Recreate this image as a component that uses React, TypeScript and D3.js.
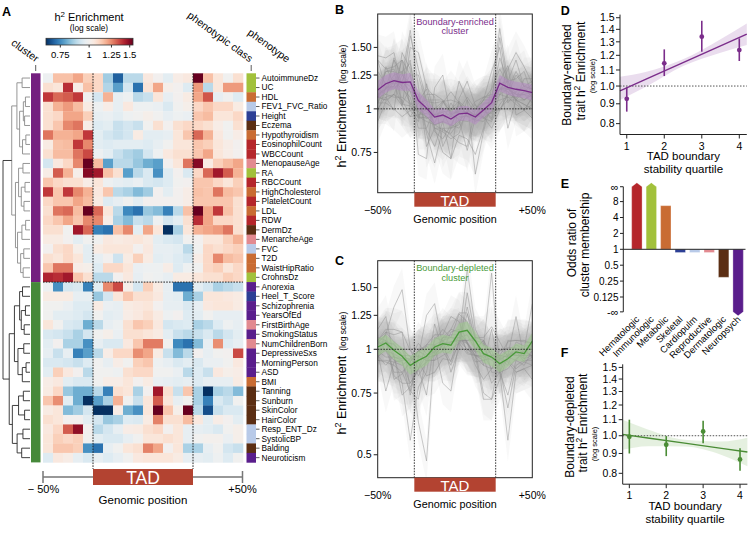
import React, { useEffect, useRef } from "react";
import * as d3 from "d3";

const FONT = "'Liberation Sans', Arial, Helvetica, sans-serif";

// ---- panel A data ----
const phenotypes = [
  "AutoimmuneDz", "UC", "HDL", "FEV1_FVC_Ratio", "Height", "Eczema", "Hypothyroidism",
  "EosinophilCount", "WBCCount", "MenopauseAge", "RA", "RBCCount", "HighCholesterol",
  "PlateletCount", "LDL", "RDW", "DermDz", "MenarcheAge", "FVC", "T2D", "WaistHipRatio",
  "CrohnsDz", "Anorexia", "Heel_T_Score", "Schizophrenia", "YearsOfEd", "FirstBirthAge",
  "SmokingStatus", "NumChildrenBorn", "DepressiveSxs", "MorningPerson", "ASD", "BMI",
  "Tanning", "Sunburn", "SkinColor", "HairColor", "Resp_ENT_Dz", "SystolicBP", "Balding",
  "Neuroticism",
];

const phenotypeClass = [
  "Immunologic", "Immunologic", "Metabolic", "Cardiopulm", "Skeletal", "Dermatologic", "Metabolic",
  "Hematologic", "Hematologic", "Reproductive", "Immunologic", "Hematologic", "Metabolic",
  "Hematologic", "Metabolic", "Hematologic", "Dermatologic", "Reproductive", "Cardiopulm", "Metabolic", "Metabolic",
  "Immunologic", "Neuropsych", "Skeletal", "Neuropsych", "Neuropsych", "Reproductive",
  "Neuropsych", "Reproductive", "Neuropsych", "Neuropsych", "Neuropsych", "Metabolic",
  "Dermatologic", "Dermatologic", "Dermatologic", "Dermatologic", "Cardiopulm", "Cardiopulm", "Dermatologic",
  "Neuropsych",
];

const classNames = ["Hematologic", "Immunologic", "Metabolic", "Skeletal", "Cardiopulm", "Reproductive", "Dermatologic", "Neuropsych"];
const classColors = ["#b5262b", "#a2c13b", "#c96c33", "#2c3f95", "#b8cae8", "#e28a90", "#5b2e13", "#5a1e8c"];

const clusterSizes = [22, 19];
const clusterColors = ["#741f7f", "#46893a"];
const clusterLabels = ["Boundary-enriched", "Boundary-depleted"];

// h2 enrichment per trait, 5 upstream bins, 10 TAD bins, 5 downstream bins
const heatValues = [
  [0.98, 1.15, 1.15, 1.2, 1.12, 1.1, 0.85, 0.7, 0.88, 0.88, 1.05, 1.0, 0.95, 1.03, 1.05, 1.6, 1.15, 1.06, 0.99, 1.08],
  [1.08, 1.06, 1.4, 1.03, 1.15, 1.1, 0.87, 0.78, 0.92, 0.72, 1.07, 1.2, 1.02, 1.0, 0.94, 1.22, 0.88, 1.06, 1.22, 1.22],
  [1.38, 1.3, 1.32, 1.38, 0.99, 0.92, 1.18, 0.96, 0.98, 0.88, 0.9, 1.06, 0.96, 1.0, 1.04, 1.2, 1.33, 0.96, 0.99, 0.94],
  [1.08, 1.18, 1.22, 1.16, 1.04, 0.98, 1.03, 0.96, 1.05, 0.98, 0.98, 0.97, 0.93, 0.99, 1.02, 1.1, 1.14, 1.1, 1.1, 1.04],
  [1.08, 1.1, 1.2, 1.2, 1.12, 0.96, 0.97, 0.95, 0.98, 0.99, 1.02, 0.99, 0.96, 0.98, 0.97, 1.14, 1.16, 1.06, 1.06, 1.1],
  [1.08, 1.14, 1.25, 1.28, 1.03, 0.94, 0.95, 0.9, 0.92, 0.9, 0.99, 1.08, 1.0, 1.08, 1.1, 1.1, 1.08, 1.03, 0.99, 1.08],
  [1.28, 1.18, 1.18, 1.2, 1.38, 0.95, 0.92, 0.9, 0.92, 1.04, 0.95, 0.95, 0.96, 1.06, 1.14, 1.3, 1.18, 1.05, 0.99, 1.03],
  [1.04, 1.15, 1.16, 1.38, 1.25, 0.95, 0.94, 0.95, 0.95, 0.95, 0.94, 0.96, 0.99, 1.06, 1.06, 1.14, 1.12, 1.06, 1.03, 1.0],
  [1.08, 1.16, 1.16, 1.28, 1.35, 0.98, 0.95, 0.9, 0.87, 0.85, 0.92, 0.98, 1.05, 1.08, 1.08, 1.14, 1.2, 1.06, 1.03, 1.0],
  [0.92, 1.05, 1.1, 1.25, 1.68, 1.16, 0.78, 0.88, 0.88, 0.84, 0.8, 0.78, 1.0, 1.06, 1.28, 1.5, 1.04, 1.12, 1.16, 1.2],
  [1.03, 1.32, 1.18, 1.02, 1.5, 1.45, 1.15, 1.08, 0.78, 0.88, 0.93, 0.76, 0.94, 1.0, 0.93, 1.1, 1.3, 1.45, 1.32, 1.18],
  [1.14, 1.1, 1.08, 1.08, 1.03, 1.06, 0.98, 0.96, 0.95, 0.97, 0.93, 0.92, 0.94, 0.99, 1.0, 1.14, 1.14, 1.1, 1.06, 1.12],
  [1.38, 1.14, 1.38, 1.25, 1.18, 1.05, 1.14, 0.88, 0.86, 0.82, 0.85, 1.0, 0.95, 1.0, 1.03, 1.15, 1.14, 1.28, 1.16, 1.14],
  [1.1, 1.14, 1.14, 1.2, 1.16, 1.04, 0.94, 0.96, 0.99, 0.95, 1.0, 1.0, 1.0, 1.0, 1.03, 1.14, 1.14, 1.14, 1.14, 1.08],
  [1.08, 1.28, 1.3, 1.16, 1.62, 1.3, 1.06, 0.88, 0.75, 0.72, 0.84, 0.82, 0.74, 0.88, 1.15, 1.7, 1.2, 1.38, 1.15, 1.08],
  [1.1, 1.14, 1.2, 1.14, 1.25, 1.25, 1.03, 0.86, 0.82, 0.9, 0.88, 0.98, 0.92, 0.95, 1.08, 1.4, 1.2, 1.1, 1.1, 1.08],
  [1.08, 1.08, 0.99, 1.45, 1.3, 0.74, 0.72, 1.15, 1.25, 0.95, 1.2, 1.06, 0.65, 0.86, 1.06, 1.18, 1.2, 1.22, 1.28, 1.08],
  [1.04, 1.04, 1.0, 0.95, 0.99, 0.99, 1.05, 1.04, 1.05, 1.06, 1.04, 0.95, 0.93, 0.92, 0.99, 1.0, 1.06, 1.06, 1.12, 1.18],
  [1.0, 1.08, 1.1, 1.02, 0.95, 1.04, 1.06, 1.06, 1.06, 1.0, 1.05, 0.96, 0.96, 0.95, 0.88, 0.99, 1.1, 1.08, 1.1, 1.12],
  [1.08, 1.06, 1.1, 1.06, 0.95, 0.96, 1.0, 0.91, 1.04, 1.12, 1.04, 0.95, 0.96, 0.94, 0.92, 1.03, 1.1, 1.25, 1.16, 1.14],
  [1.14, 1.28, 1.28, 1.03, 1.02, 0.94, 1.1, 1.1, 1.06, 0.97, 0.98, 0.98, 1.03, 0.94, 0.98, 0.99, 1.1, 1.12, 1.06, 1.1],
  [1.42, 1.4, 1.45, 1.14, 1.08, 0.88, 0.88, 1.0, 1.05, 0.96, 0.99, 0.98, 0.96, 1.04, 1.04, 1.06, 1.08, 1.08, 1.12, 1.1],
  [0.98, 0.76, 0.92, 0.93, 0.74, 0.95, 1.25, 1.35, 1.02, 0.92, 1.12, 1.04, 0.96, 0.72, 0.72, 0.95, 0.92, 0.86, 0.88, 0.9],
  [1.04, 1.04, 1.04, 0.96, 0.96, 0.84, 0.92, 1.06, 1.14, 1.08, 1.08, 1.05, 0.96, 0.95, 0.8, 0.86, 1.06, 1.06, 1.05, 1.04],
  [0.99, 0.99, 0.97, 0.94, 0.94, 1.04, 0.97, 0.96, 1.04, 1.05, 1.06, 1.0, 0.96, 0.96, 0.93, 0.96, 1.05, 1.06, 1.06, 1.04],
  [0.99, 0.95, 0.95, 0.94, 0.92, 0.99, 0.95, 0.96, 1.03, 1.05, 1.08, 1.04, 0.98, 1.0, 0.94, 0.95, 0.99, 0.96, 0.96, 0.96],
  [1.06, 0.99, 0.93, 0.92, 0.8, 0.88, 0.96, 0.98, 1.08, 1.14, 1.12, 1.05, 0.92, 0.93, 0.94, 0.86, 0.88, 0.94, 0.98, 0.96],
  [0.93, 0.92, 0.9, 0.86, 0.92, 0.99, 1.02, 0.97, 1.08, 1.08, 1.06, 1.04, 0.95, 0.9, 0.88, 0.9, 0.93, 0.88, 0.92, 0.95],
  [0.95, 1.0, 0.86, 0.86, 0.76, 0.96, 0.93, 0.93, 1.05, 1.14, 1.27, 1.27, 0.99, 0.75, 0.72, 0.82, 0.96, 1.24, 0.94, 0.96],
  [0.96, 0.9, 0.96, 0.74, 0.78, 0.88, 1.03, 1.1, 1.1, 1.24, 1.2, 1.04, 0.9, 0.82, 0.88, 1.0, 0.96, 0.99, 1.0, 1.35],
  [0.93, 0.93, 0.92, 0.9, 0.94, 0.99, 0.96, 1.03, 0.99, 1.12, 1.14, 0.98, 0.96, 0.93, 0.95, 0.93, 0.97, 0.97, 0.99, 1.05],
  [0.95, 1.12, 1.05, 1.0, 0.88, 0.99, 0.99, 0.98, 1.08, 1.1, 1.1, 0.99, 0.99, 0.97, 0.88, 0.94, 0.9, 1.05, 1.02, 1.03],
  [1.03, 1.05, 0.95, 0.93, 0.93, 0.99, 1.03, 1.03, 1.06, 1.0, 1.04, 0.97, 0.96, 0.95, 0.96, 0.94, 0.96, 0.96, 0.96, 1.04],
  [1.04, 1.1, 0.84, 0.8, 0.8, 0.88, 0.74, 1.08, 1.06, 0.86, 1.0, 1.45, 1.08, 0.9, 1.14, 0.86, 0.55, 0.86, 0.88, 0.82],
  [1.14, 1.24, 0.95, 0.8, 0.55, 0.78, 0.86, 1.18, 0.99, 0.9, 1.06, 1.32, 1.06, 0.96, 0.99, 0.86, 0.74, 0.93, 0.9, 0.99],
  [1.04, 1.06, 0.82, 0.85, 0.92, 0.62, 0.48, 1.03, 0.8, 0.76, 1.06, 1.7, 1.14, 1.02, 1.65, 0.88, 0.68, 0.9, 0.93, 0.93],
  [1.08, 1.06, 1.0, 1.0, 0.95, 0.92, 0.84, 0.86, 0.94, 0.93, 1.04, 1.26, 1.08, 1.08, 1.16, 1.05, 0.95, 1.03, 1.0, 0.95],
  [1.05, 1.1, 1.32, 1.48, 1.0, 0.88, 0.92, 0.96, 1.03, 1.04, 1.08, 1.1, 1.0, 1.06, 0.96, 0.96, 0.95, 0.93, 0.99, 1.02],
  [1.06, 1.12, 1.1, 1.12, 0.99, 0.95, 0.93, 0.93, 0.96, 0.99, 1.06, 1.06, 1.08, 1.06, 0.96, 0.99, 1.01, 1.01, 0.97, 1.02],
  [1.06, 1.14, 1.14, 1.12, 0.76, 0.72, 0.96, 0.99, 1.06, 1.08, 1.26, 1.2, 1.0, 1.06, 0.86, 0.86, 0.96, 0.99, 0.92, 0.9],
  [0.94, 1.05, 1.03, 0.96, 0.93, 0.96, 0.94, 0.96, 0.99, 1.05, 1.06, 1.06, 1.06, 1.04, 0.96, 0.96, 0.95, 0.98, 0.94, 0.99],
];

const tadBins = [5, 15]; // first and last+1 TAD bin
const colorbarTicks = [0.75, 1, 1.25, 1.5];

// dendrogram: [merge height, left, right], leaves are row indices
type Tree = number | [number, Tree, Tree];
const enrichedTree: Tree = [8.8,
  [6.3, [3.8, 0, 1], [5.0, [3.2, [2.2, 2, 3], [2.6, 4, 5]], [3.6, [2.0, 6, 7], 8]]],
  [7.0, [5.5, [3.4, 9, 10], [4.2, [2.4, 11, 12], [2.9, 13, 14]]],
    [6.0, [3.9, [2.1, 15, 16], 17], [4.5, [3.0, 18, 19], [3.3, 20, 21]]]]];
const depletedTree: Tree = [10,
  [7.5, [5.0, [3.6, 22, 23], [4.2, [2.2, 24, 25], [2.8, 26, 27]]], [5.8, [3.0, 28, 29], [3.7, [1.9, 30, 31], 32]]],
  [8.5, [5.5, [3.2, 33, 34], [2.6, 35, 36]], [6.2, [3.4, 37, 38], [4.0, 39, 40]]]];
const rootHeight = 13;

// ---- panels B, C ----
const enrichedMean = [1.133, 1.18, 1.205, 1.19, 1.195, 1.056, 1.005, 0.947, 0.96, 0.935, 0.968, 0.972, 0.947, 0.993, 1.042, 1.184, 1.153, 1.138, 1.128, 1.113];
const enrichedCI = [0.06, 0.058, 0.055, 0.055, 0.058, 0.06, 0.055, 0.05, 0.05, 0.048, 0.048, 0.048, 0.05, 0.05, 0.055, 0.055, 0.05, 0.05, 0.05, 0.052];
const depletedMean = [1.015, 1.042, 0.993, 0.955, 0.9, 0.93, 0.955, 1.015, 1.038, 1.027, 1.12, 1.133, 1.056, 0.972, 0.95, 0.91, 0.94, 0.983, 0.972, 1.056];
const depletedCI = [0.055, 0.055, 0.058, 0.06, 0.062, 0.062, 0.06, 0.058, 0.058, 0.058, 0.058, 0.058, 0.06, 0.06, 0.06, 0.058, 0.055, 0.055, 0.055, 0.055];
const profileTicksB = [0.75, 1, 1.25, 1.5];
const profileTicksC = [0.5, 0.75, 1, 1.25, 1.5];

// ---- panels D, F ----
const quartiles = [1, 2, 3, 4];
const enrichedQ = [0.927, 1.144, 1.34, 1.238];
const enrichedQLo = [0.859, 1.061, 1.226, 1.16];
const enrichedQHi = [0.992, 1.243, 1.473, 1.327];
const fitX = [0.82, 1.5, 2.5, 3.5, 4.2];
const enrichedFit = [0.972, 1.04, 1.149, 1.269, 1.36];
const enrichedFitLo = [0.92, 0.994, 1.126, 1.219, 1.275];
const enrichedFitHi = [1.057, 1.087, 1.172, 1.321, 1.45];
const depletedQ = [0.994, 0.948, 1.026, 0.869];
const depletedQLo = [0.9, 0.886, 0.956, 0.812];
const depletedQHi = [1.1, 0.998, 1.093, 0.928];
const depletedFit = [1.008, 0.987, 0.957, 0.928, 0.908];
const depletedFitLo = [0.92, 0.94, 0.938, 0.892, 0.834];
const depletedFitHi = [1.1, 1.038, 0.976, 0.966, 0.988];
const quartileTicks = [0.8, 0.9, 1.0, 1.1, 1.2, 1.3, 1.4, 1.5];

// ---- panel E ----
const oddsRatio = [Infinity, Infinity, 6.7, 0.87, 0.87, 0.87, 0.295, 0];
const oddsTicks = [8, 4, 2, 1, 0.5, 0.25, 0.125];
const INF_CAP = 15.3;

function addH2(text: any, size: number) {
  text.append("tspan").text("h");
  text.append("tspan").attr("dy", -size * 0.4).attr("font-size", size * 0.72).text("2");
  text.append("tspan").attr("dy", size * 0.4).text(" Enrichment");
}

function drawPanelA(svg: any) {
  const g = svg.append("g");
  const nRows = phenotypes.length;
  const x = d3.scaleBand<number>().domain(d3.range(20)).range([43, 243]);
  const y = d3.scaleBand<number>().domain(d3.range(nRows)).range([73.3, 462.4]);
  const lo = Math.log(0.65), hi = Math.log(1.55);
  // slightly softer than plain RdBu around 1
  const soft = (t: number) => {
    const u = 2 * t - 1;
    return d3.interpolateRdBu(0.5 - 0.5 * Math.sign(u) * Math.pow(Math.abs(u), 1.08));
  };
  const color = d3.scaleDiverging(soft).domain([lo, 0, hi]).clamp(true);

  g.append("text").attr("x", 2).attr("y", 16).attr("font-size", 12.5).attr("font-weight", "bold").text("A");

  // colour bar
  const cb = d3.scaleLog().domain([0.65, 1.55]).range([46, 133]);
  const grad = svg.append("defs").append("linearGradient").attr("id", "cbar");
  d3.range(0, 1.0001, 0.05).forEach((t) => {
    grad.append("stop").attr("offset", t).attr("stop-color", color(lo + t * (hi - lo)));
  });
  g.append("rect").attr("x", 46).attr("y", 38.3).attr("width", 87).attr("height", 6.7)
    .attr("fill", "url(#cbar)").attr("stroke", "#333").attr("stroke-width", 0.8);
  colorbarTicks.forEach((v) => {
    g.append("line").attr("x1", cb(v)).attr("x2", cb(v)).attr("y1", 45).attr("y2", 47.5).attr("stroke", "#333");
    g.append("text").attr("x", cb(v)).attr("y", 57.5).attr("text-anchor", "middle").attr("font-size", 9.5).text(String(v));
  });
  const ttl = g.append("text").attr("x", 89).attr("y", 21).attr("text-anchor", "middle").attr("font-size", 11);
  addH2(ttl, 11);
  g.append("text").attr("x", 89).attr("y", 31).attr("text-anchor", "middle").attr("font-size", 8.3).text("(log scale)");

  // heat cells
  heatValues.forEach((row, r) => {
    row.forEach((v, c) => {
      g.append("rect").attr("x", x(c)).attr("y", y(r)).attr("width", x.bandwidth() + 0.3).attr("height", y.bandwidth() + 0.3)
        .attr("fill", color(Math.log(v)));
    });
  });

  // cluster bar
  let start = 0;
  clusterSizes.forEach((n, k) => {
    g.append("rect").attr("x", 31).attr("y", y(start)).attr("width", 9.5).attr("height", n * y.step()).attr("fill", clusterColors[k]);
    start += n;
  });

  // phenotype class bar + labels
  phenotypes.forEach((p, r) => {
    const ci = classNames.indexOf(phenotypeClass[r]);
    g.append("rect").attr("x", 246.5).attr("y", y(r)).attr("width", 9.5).attr("height", y.bandwidth() + 0.3).attr("fill", classColors[ci]);
    const cy = y(r)! + y.bandwidth() / 2;
    g.append("line").attr("x1", 256).attr("x2", 259.5).attr("y1", cy).attr("y2", cy).attr("stroke", "#333").attr("stroke-width", 0.8);
    g.append("text").attr("x", 261.5).attr("y", cy).attr("dy", "0.35em").attr("font-size", 8.3).text(p);
  });

  // rotated headers
  g.append("text").attr("transform", "translate(35.5,62.5) rotate(36)").attr("text-anchor", "end").attr("font-size", 10.5).text("cluster");
  g.append("text").attr("transform", "translate(249.5,62.5) rotate(36)").attr("text-anchor", "end").attr("font-size", 10.5).text("phenotypic class");
  g.append("text").attr("transform", "translate(247,34) rotate(36)").attr("text-anchor", "start").attr("font-size", 10.5).text("phenotype");
  [35.7, 251.2].forEach((tx) => {
    g.append("line").attr("x1", tx).attr("x2", tx).attr("y1", 65).attr("y2", 71).attr("stroke", "#333").attr("stroke-width", 0.8);
  });

  // dendrogram
  const dx = d3.scaleLinear().domain([0, rootHeight]).range([30, 3]);
  const walk = (n: Tree, stroke: string): { x: number; y: number } => {
    if (typeof n === "number") return { x: dx(0), y: y(n)! + y.bandwidth() / 2 };
    const [h, a, b] = n;
    const pa = walk(a, stroke), pb = walk(b, stroke);
    const px = dx(h);
    g.append("path").attr("d", `M${pa.x},${pa.y}H${px}V${pb.y}H${pb.x}`).attr("fill", "none")
      .attr("stroke", stroke).attr("stroke-width", 0.9);
    return { x: px, y: (pa.y + pb.y) / 2 };
  };
  const pe = walk(enrichedTree, "#8a8a8a");
  const pd = walk(depletedTree, "#2a2a2a");
  const rx = dx(rootHeight);
  g.append("path").attr("d", `M${pe.x},${pe.y}H${rx}V${pd.y}H${pd.x}`).attr("fill", "none").attr("stroke", "#2a2a2a").attr("stroke-width", 0.9);

  // TAD boundaries and cluster split
  [tadBins[0], tadBins[1]].forEach((c) => {
    g.append("line").attr("x1", x(c)).attr("x2", x(c)).attr("y1", 73.3).attr("y2", 469)
      .attr("stroke", "#222").attr("stroke-width", 1).attr("stroke-dasharray", "1.6,1.2");
  });
  const splitY = y(clusterSizes[0])!;
  g.append("line").attr("x1", 43).attr("x2", 243).attr("y1", splitY).attr("y2", splitY)
    .attr("stroke", "#222").attr("stroke-width", 1).attr("stroke-dasharray", "1.6,1.2");

  // genomic scale bar
  g.append("path").attr("d", "M43,471V483M43,477H242.5M242.5,471V483").attr("stroke", "#777").attr("stroke-width", 1.5).attr("fill", "none");
  g.append("rect").attr("x", x(tadBins[0])).attr("y", 469).attr("width", x(tadBins[1])! - x(tadBins[0])!).attr("height", 16).attr("fill", "#b34331");
  g.append("text").attr("x", (x(tadBins[0])! + x(tadBins[1])!) / 2).attr("y", 483.5).attr("text-anchor", "middle")
    .attr("font-size", 17.5).attr("fill", "#fff").text("TAD");
  g.append("text").attr("x", 43.5).attr("y", 493).attr("text-anchor", "middle").attr("font-size", 11).text("\u2212 50%");
  g.append("text").attr("x", 242.5).attr("y", 493).attr("text-anchor", "middle").attr("font-size", 11).text("+50%");
  g.append("text").attr("x", 143).attr("y", 503.5).attr("text-anchor", "middle").attr("font-size", 11.5).text("Genomic position");
}

function drawProfile(svg: any, o: any) {
  const g = svg.append("g");
  const x = d3.scaleLinear().domain([0, 19]).range([o.left, o.right]);
  const y = d3.scaleLog().domain(o.yDomain).range([o.bottom, o.top]);
  const clipId = "clip" + o.letter;
  svg.append("defs").append("clipPath").attr("id", clipId).append("rect")
    .attr("x", o.left).attr("y", o.top).attr("width", o.right - o.left).attr("height", o.bottom - o.top);
  const inner = g.append("g").attr("clip-path", `url(#${clipId})`);
  const idx = d3.range(20);

  o.rows.forEach((row: number[]) => {
    const area = d3.area<number>().x((i) => x(i)).y0((i) => y(row[i] / 1.15)).y1((i) => y(row[i] * 1.15));
    inner.append("path").attr("d", area(idx)).attr("fill", "#a0a0a0").attr("fill-opacity", 0.075);
  });
  o.rows.forEach((row: number[]) => {
    const line = d3.line<number>().x((i) => x(i)).y((i) => y(row[i]));
    inner.append("path").attr("d", line(idx)).attr("fill", "none").attr("stroke", "#909090").attr("stroke-width", 0.6).attr("stroke-opacity", 0.8);
  });
  const band = d3.area<number>().x((i) => x(i)).y0((i) => y(o.mean[i] * Math.exp(-o.ci[i]))).y1((i) => y(o.mean[i] * Math.exp(o.ci[i])));
  inner.append("path").attr("d", band(idx)).attr("fill", o.bandColor).attr("fill-opacity", 0.55);
  const mline = d3.line<number>().x((i) => x(i)).y((i) => y(o.mean[i]));
  inner.append("path").attr("d", mline(idx)).attr("fill", "none").attr("stroke", o.color).attr("stroke-width", 1.3);

  const dash = { stroke: "#222", w: 0.9, d: "1.6,1.2" };
  [4.5, 14.5].forEach((v) => {
    g.append("line").attr("x1", x(v)).attr("x2", x(v)).attr("y1", o.top).attr("y2", o.bottom)
      .attr("stroke", dash.stroke).attr("stroke-width", dash.w).attr("stroke-dasharray", dash.d);
  });
  g.append("line").attr("x1", o.left).attr("x2", o.right).attr("y1", y(1)).attr("y2", y(1))
    .attr("stroke", dash.stroke).attr("stroke-width", dash.w).attr("stroke-dasharray", dash.d);

  g.append("rect").attr("x", o.left).attr("y", o.top).attr("width", o.right - o.left).attr("height", o.bottom - o.top)
    .attr("fill", "none").attr("stroke", "#222").attr("stroke-width", 1);

  o.ticks.forEach((v: number) => {
    g.append("line").attr("x1", o.left - 4).attr("x2", o.left).attr("y1", y(v)).attr("y2", y(v)).attr("stroke", "#222");
    g.append("text").attr("x", o.left - 6).attr("y", y(v)).attr("dy", "0.35em").attr("text-anchor", "end").attr("font-size", 10.5)
      .text(v === 1 ? "1" : v === 0.5 ? "0.5" : v.toFixed(2));
  });

  const t = g.append("text").attr("transform", `translate(${o.titleX},${o.titleY}) rotate(-90)`).attr("text-anchor", "middle").attr("font-size", 12.5);
  addH2(t, 12.5);
  t.append("tspan").attr("font-size", 8.5).attr("dx", 5).text("(log scale)");

  // cluster label
  const lab = o.label.split("\n");
  lab.forEach((s: string, i: number) => {
    g.append("text").attr("x", (x(4.5) + x(14.5)) / 2).attr("y", o.top + 10.5 + i * 9.5).attr("text-anchor", "middle")
      .attr("font-size", 9.2).attr("fill", o.color).text(s);
  });

  // TAD box + x labels
  g.append("rect").attr("x", x(4.5)).attr("y", o.bottom).attr("width", x(14.5) - x(4.5)).attr("height", 14).attr("fill", "#b34331");
  g.append("text").attr("x", (x(4.5) + x(14.5)) / 2).attr("y", o.bottom + 13.2).attr("text-anchor", "middle").attr("font-size", 15).attr("fill", "#fff").text("TAD");
  g.append("text").attr("x", x(0)).attr("y", o.bottom + 21).attr("text-anchor", "middle").attr("font-size", 10.5).text("\u221250%");
  g.append("text").attr("x", x(19)).attr("y", o.bottom + 21).attr("text-anchor", "middle").attr("font-size", 10.5).text("+50%");
  g.append("text").attr("x", (o.left + o.right) / 2).attr("y", o.bottom + 30).attr("text-anchor", "middle").attr("font-size", 10.8).text("Genomic position");

  g.append("text").attr("x", o.letterX).attr("y", o.letterY).attr("font-size", 12.5).attr("font-weight", "bold").text(o.letter);
}

function drawQuartile(svg: any, o: any) {
  const g = svg.append("g");
  const x = d3.scaleLinear().domain([0.82, 4.2]).range([o.left, o.right]);
  const y = d3.scaleLog().domain([0.75, 1.51]).range([o.bottom, o.top]);

  const fx = d3.range(fitX.length);
  const band = d3.area<number>().x((i) => x(fitX[i])).y0((i) => y(o.fitLo[i])).y1((i) => y(o.fitHi[i])).curve(d3.curveMonotoneX);
  g.append("path").attr("d", band(fx)).attr("fill", o.bandColor).attr("fill-opacity", 0.6);
  g.append("line").attr("x1", o.left).attr("x2", o.right).attr("y1", y(1)).attr("y2", y(1))
    .attr("stroke", "#555").attr("stroke-width", 1).attr("stroke-dasharray", "1.5,1.5");
  const fl = d3.line<number>().x((i) => x(fitX[i])).y((i) => y(o.fit[i]));
  g.append("path").attr("d", fl(fx)).attr("fill", "none").attr("stroke", o.color).attr("stroke-width", 1.4);

  quartiles.forEach((q, i) => {
    g.append("line").attr("x1", x(q)).attr("x2", x(q)).attr("y1", y(o.lo[i])).attr("y2", y(o.hi[i])).attr("stroke", o.color).attr("stroke-width", 1.6);
    g.append("circle").attr("cx", x(q)).attr("cy", y(o.val[i])).attr("r", 2.4).attr("fill", o.color);
  });

  g.append("path").attr("d", `M${o.left},${o.top - 2}V${o.bottom}H${o.right}`).attr("fill", "none").attr("stroke", "#222").attr("stroke-width", 1);
  quartileTicks.forEach((v) => {
    g.append("line").attr("x1", o.left - 4).attr("x2", o.left).attr("y1", y(v)).attr("y2", y(v)).attr("stroke", "#222");
    g.append("text").attr("x", o.left - 5.5).attr("y", y(v)).attr("dy", "0.35em").attr("text-anchor", "end").attr("font-size", 10.5).text(v.toFixed(1));
  });
  quartiles.forEach((q) => {
    g.append("line").attr("x1", x(q)).attr("x2", x(q)).attr("y1", o.bottom).attr("y2", o.bottom + 4).attr("stroke", "#222");
    g.append("text").attr("x", x(q)).attr("y", o.bottom + 15).attr("text-anchor", "middle").attr("font-size", 10.5).text(String(q));
  });
  g.append("text").attr("x", (o.left + o.right) / 2).attr("y", o.bottom + 25.5).attr("text-anchor", "middle").attr("font-size", 11.5).text("TAD boundary");
  g.append("text").attr("x", (o.left + o.right) / 2).attr("y", o.bottom + 38.5).attr("text-anchor", "middle").attr("font-size", 11.5).text("stability quartile");

  g.append("text").attr("transform", `translate(${o.left - 49},${o.titleY}) rotate(-90)`).attr("text-anchor", "middle").attr("font-size", 12).text(o.title);
  const t2 = g.append("text").attr("transform", `translate(${o.left - 35.5},${o.titleY - 4}) rotate(-90)`).attr("text-anchor", "middle").attr("font-size", 12);
  t2.append("tspan").text("trait ");
  addH2(t2, 12);
  g.append("text").attr("transform", `translate(${o.left - 25.5},${o.titleY + o.logOffset}) rotate(-90)`).attr("text-anchor", "middle").attr("font-size", 7.5).text("(log scale)");

  g.append("text").attr("x", 560.7).attr("y", o.letterY).attr("font-size", 12.5).attr("font-weight", "bold").text(o.letter);
}

function drawOdds(svg: any) {
  const g = svg.append("g");
  const x = d3.scaleBand<string>().domain(classNames).range([629.5, 745.5]).paddingInner(0.28).paddingOuter(0.15);
  const y = d3.scaleLog().base(2).domain([1 / 16, 16]).range([312.9, 185.7]);
  const y1 = y(1);
  classNames.forEach((c, i) => {
    const v = oddsRatio[i];
    const x0 = x(c)!, w = x.bandwidth(), xm = x0 + w / 2;
    let d: string;
    if (v === Infinity) {
      const yt = y(INF_CAP);
      d = `M${x0},${y1}V${yt}L${xm},${yt - 4}L${x0 + w},${yt}V${y1}Z`;
    } else if (v === 0) {
      const yb = y(1 / INF_CAP);
      d = `M${x0},${y1}V${yb}L${xm},${yb + 4}L${x0 + w},${yb}V${y1}Z`;
    } else {
      d = `M${x0},${y1}V${y(v)}H${x0 + w}V${y1}Z`;
    }
    g.append("path").attr("d", d).attr("fill", classColors[i]).attr("stroke", "#fff").attr("stroke-width", 0.6).attr("stroke-opacity", 0.5);
    g.append("text").attr("transform", `translate(${xm + 3},${320}) rotate(-45)`).attr("text-anchor", "end").attr("font-size", 9.4).text(c);
  });
  g.append("line").attr("x1", 623.3).attr("x2", 745.5).attr("y1", y1).attr("y2", y1).attr("stroke", "#222").attr("stroke-width", 1);
  g.append("line").attr("x1", 623.3).attr("x2", 623.3).attr("y1", y(INF_CAP)).attr("y2", y(1 / INF_CAP)).attr("stroke", "#222").attr("stroke-width", 1);
  const allTicks = [INF_CAP, ...oddsTicks, 1 / INF_CAP];
  const labels = ["\u221e", ...oddsTicks.map(String), "-\u221e"];
  allTicks.forEach((v, i) => {
    g.append("line").attr("x1", 620).attr("x2", 623.3).attr("y1", y(v)).attr("y2", y(v)).attr("stroke", "#222");
    g.append("text").attr("x", 618.5).attr("y", y(v)).attr("dy", "0.35em").attr("text-anchor", "end")
      .attr("font-size", i === 0 || i === allTicks.length - 1 ? 11 : 10).text(labels[i]);
  });
  g.append("text").attr("transform", "translate(576,243) rotate(-90)").attr("text-anchor", "middle").attr("font-size", 12).text("Odds  ratio of");
  g.append("text").attr("transform", "translate(589,245) rotate(-90)").attr("text-anchor", "middle").attr("font-size", 12).text("cluster membership");
  g.append("text").attr("x", 560.7).attr("y", 188).attr("font-size", 12.5).attr("font-weight", "bold").text("E");
}

export default function App() {
  const ref = useRef<SVGSVGElement>(null);

  useEffect(() => {
    const svg = d3.select(ref.current);
    svg.selectAll("*").remove();
    drawPanelA(svg);
    drawProfile(svg, {
      letter: "B", letterX: 335, letterY: 14, left: 377.7, right: 532.3, top: 14, bottom: 192.7,
      yDomain: [0.575, 1.87], ticks: profileTicksB, rows: heatValues.slice(0, clusterSizes[0]),
      mean: enrichedMean, ci: enrichedCI, color: "#7b2d8b", bandColor: "#b58bc2",
      label: "Boundary-enriched\ncluster", titleX: 346, titleY: 106,
    });
    drawProfile(svg, {
      letter: "C", letterX: 335, letterY: 265, left: 377.7, right: 532.3, top: 260.7, bottom: 477.7,
      yDomain: [0.43, 1.79], ticks: profileTicksC, rows: heatValues.slice(clusterSizes[0]),
      mean: depletedMean, ci: depletedCI, color: "#4a9a3a", bandColor: "#9fcb8e",
      label: "Boundary-depleted\ncluster", titleX: 346, titleY: 373,
    });
    drawQuartile(svg, {
      letter: "D", letterY: 15, left: 620, right: 746.8, top: 16.6, bottom: 134.5,
      val: enrichedQ, lo: enrichedQLo, hi: enrichedQHi, fit: enrichedFit, fitLo: enrichedFitLo, fitHi: enrichedFitHi,
      color: "#7b2d8b", bandColor: "#dcc6e3", title: clusterLabels[0], titleY: 75, logOffset: 1,
    });
    drawOdds(svg);
    drawQuartile(svg, {
      letter: "F", letterY: 357, left: 622.7, right: 747.4, top: 366.3, bottom: 484.2,
      val: depletedQ, lo: depletedQLo, hi: depletedQHi, fit: depletedFit, fitLo: depletedFitLo, fitHi: depletedFitHi,
      color: "#4a8c35", bandColor: "#d3e6cc", title: clusterLabels[1], titleY: 427, logOffset: 17,
    });
  }, []);

  return (
    <svg
      ref={ref}
      width={750}
      height={533}
      style={{ position: "absolute", left: 0, top: 0, fontFamily: FONT, background: "#fff" }}
    />
  );
}
